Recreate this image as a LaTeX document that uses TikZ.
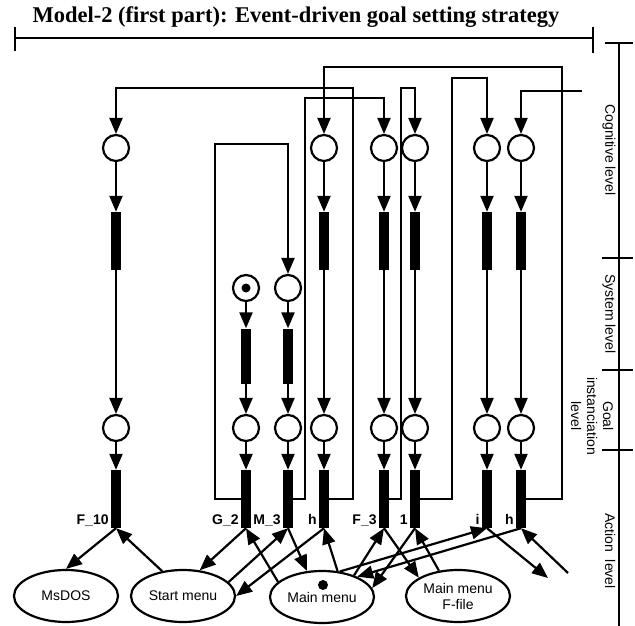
\documentclass[tikz,border=0pt]{standalone}
\usepackage{fontspec}
\setmainfont{Liberation Serif}
\setsansfont{Liberation Sans}
\usepackage{tikz}
\usetikzlibrary{arrows.meta, positioning, shapes}
\tikzstyle{place} = [circle, draw, line width=2.2pt, minimum size=26pt, inner sep=0pt]
\tikzstyle{bar} = [rectangle, fill=black, minimum width=10pt, minimum height=58pt, inner sep=0pt]
\tikzstyle{bar-small} = [rectangle, fill=black, minimum width=10pt, minimum height=55pt, inner sep=0pt]
\tikzstyle{token} = [circle, fill=black, minimum size=9pt, inner sep=0pt]
\tikzstyle{state} = [ellipse, draw, line width=2.2pt, minimum width=104pt, minimum height=52pt, inner sep=1pt, align=center, font=\sffamily\fontsize{14}{16}\selectfont]
\tikzstyle{arrow} = [line width=2.2pt, -{Triangle[length=16pt,width=13pt]}]
\tikzstyle{wire} = [line width=2.2pt]
\tikzstyle{trans-label} = [font=\sffamily\bfseries\fontsize{14}{14}\selectfont, anchor=base east, inner sep=2pt, yshift=4pt]
\tikzstyle{level} = [font=\sffamily\fontsize{14}{16}\selectfont, rotate=-90, align=center, inner sep=0pt]

\begin{document}
\begin{tikzpicture}[x=1pt, y=-1pt, node distance=93pt]
        \useasboundingbox (0,0) rectangle (635,626);

        \node[font=\bfseries\fontsize{22.5}{26}\selectfont] (title) at (296,17) {Model-2 (first part): Event-driven goal setting strategy};
        \draw[wire] (15,38) -- (593,38);
        \draw[wire] (15,27) -- (15,51);
        \draw[wire] (593,27) -- (593,53);

        \node[place] (c-f10) at (116,148) {};
        \node[place] (c-h1) at (324,148) {};
        \node[place] (c-f3) at (384,148) {};
        \node[place] (c-one) at (415,148) {};
        \node[place] (c-i) at (487,148) {};
        \node[place] (c-h2) at (521,148) {};

        \node[bar, below of=c-f10] (ct-f10) {};
        \node[bar, below of=c-h1] (ct-h1) {};
        \node[bar, below of=c-f3] (ct-f3) {};
        \node[bar, below of=c-one] (ct-one) {};
        \node[bar, below of=c-i] (ct-i) {};
        \node[bar, below of=c-h2] (ct-h2) {};

        \node[place] (s-g2) at (246,288) {};
        \node[token] (tok) at (s-g2) {};
        \node[place] (s-m3) at (288,288) {};
        \node[bar-small, below of=s-g2, node distance=68pt] (st-g2) {};
        \node[bar-small, below of=s-m3, node distance=68pt] (st-m3) {};

        \node[place, below of=ct-f10, node distance=187pt] (g-f10) {};
        \node[place, below of=st-g2, node distance=72pt] (g-g2) {};
        \node[place, below of=st-m3, node distance=72pt] (g-m3) {};
        \node[place, below of=ct-h1, node distance=187pt] (g-h1) {};
        \node[place, below of=ct-f3, node distance=187pt] (g-f3) {};
        \node[place, below of=ct-one, node distance=187pt] (g-one) {};
        \node[place, below of=ct-i, node distance=187pt] (g-i) {};
        \node[place, below of=ct-h2, node distance=187pt] (g-h2) {};

        \node[bar, below of=g-f10, node distance=71pt] (a-f10) {};
        \node[bar, below of=g-g2, node distance=71pt] (a-g2) {};
        \node[bar, below of=g-m3, node distance=71pt] (a-m3) {};
        \node[bar, below of=g-h1, node distance=71pt] (a-h1) {};
        \node[bar, below of=g-f3, node distance=71pt] (a-f3) {};
        \node[bar, below of=g-one, node distance=71pt] (a-one) {};
        \node[bar, below of=g-i, node distance=71pt] (a-i) {};
        \node[bar, below of=g-h2, node distance=71pt] (a-h2) {};

        \node[trans-label] (lab-f10) at (a-f10.south west) {F\_10};
        \node[trans-label] (lab-g2) at (a-g2.south west) {G\_2};
        \node[trans-label] (lab-m3) at (a-m3.south west) {M\_3};
        \node[trans-label] (lab-h1) at (a-h1.south west) {h};
        \node[trans-label] (lab-f3) at (a-f3.south west) {F\_3};
        \node[trans-label] (lab-one) at (a-one.south west) {1};
        \node[trans-label] (lab-i) at (a-i.south west) {i};
        \node[trans-label] (lab-h2) at (a-h2.south west) {h};

        \node[state] (msdos) at (66,596) {MsDOS};
        \node[state] (start) at (183,596) {Start menu};
        \node[state] (main) at (322,597) {Main menu};
        \node[token, minimum size=10pt] (main-tok) at (323,585) {};
        \node[state] (ffile) at (458,596) {Main menu\\F-file};

        \draw[arrow] (c-f10) -- (ct-f10);
        \draw[arrow] (ct-f10) -- (g-f10);
        \draw[arrow] (g-f10) -- (a-f10);
        \draw[arrow] (s-g2) -- (st-g2);
        \draw[arrow] (st-g2) -- (g-g2);
        \draw[arrow] (g-g2) -- (a-g2);
        \draw[arrow] (s-m3) -- (st-m3);
        \draw[arrow] (st-m3) -- (g-m3);
        \draw[arrow] (g-m3) -- (a-m3);
        \draw[arrow] (c-h1) -- (ct-h1);
        \draw[arrow] (ct-h1) -- (g-h1);
        \draw[arrow] (g-h1) -- (a-h1);
        \draw[arrow] (c-f3) -- (ct-f3);
        \draw[arrow] (ct-f3) -- (g-f3);
        \draw[arrow] (g-f3) -- (a-f3);
        \draw[arrow] (c-one) -- (ct-one);
        \draw[arrow] (ct-one) -- (g-one);
        \draw[arrow] (g-one) -- (a-one);
        \draw[arrow] (c-i) -- (ct-i);
        \draw[arrow] (ct-i) -- (g-i);
        \draw[arrow] (g-i) -- (a-i);
        \draw[arrow] (c-h2) -- (ct-h2);
        \draw[arrow] (ct-h2) -- (g-h2);
        \draw[arrow] (g-h2) -- (a-h2);

        \draw[arrow] (a-g2.west) -| (215,144) -| (s-m3);
        \draw[arrow] (a-m3.east) -| (305,98) -| (c-f3);
        \draw[arrow] (a-h1.east) -| (353,88) -| (c-f10);
        \draw[arrow] (a-f3.east) -| (401,88) -| (c-one);
        \draw[arrow] (a-one.east) -| (452,78) -| (c-i);
        \draw[arrow] (a-h2.east) -| (562,67) -| (c-h1);
        \coordinate (from-right) at (582,91);
        \draw[arrow] (from-right) -| (c-h2);

        \draw[arrow] (a-f10.south) -- (msdos.north);
        \draw[arrow] (start.130) -- (a-f10.south);
        \draw[arrow] (a-g2.south) -- (start.57);
        \draw[arrow] (main.161) -- (a-g2.south);
        \draw[arrow] (start.17) -- (a-m3.south);
        \draw[arrow] (a-h1.south) -- (start.east);
        \draw[arrow] (a-m3.south) -- (main.120);
        \draw[arrow] (main.59) -- (a-h1.south);
        \draw[arrow] (main.34) -- (a-f3.south);
        \draw[arrow] (a-f3.south) -- (ffile.155);
        \draw[arrow] (a-one.south) -- (main.10);
        \draw[arrow] (ffile.127) -- (a-one.south);
        \draw[arrow] (main.55) -- (a-i.south);
        \draw[arrow] (a-h2.south) -- (main.30);
        \coordinate (out-i) at (548,578);
        \coordinate (in-h2) at (568,573);
        \draw[arrow] (a-i.south) -- (out-i);
        \draw[arrow] (in-h2) -- (a-h2.south);

        \draw[wire] (619,43) -- (619,626);
        \draw[wire] (605,43) -- (633,43);
        \draw[wire] (602,258) -- (633,258);
        \draw[wire] (602,370) -- (633,370);
        \draw[wire] (602,450) -- (633,450);
        \node[level] (lev-cog) at (609,150) {Cognitive level};
        \node[level] (lev-sys) at (609,314) {System level};
        \node[level] (lev-goal) at (592,416) {Goal\\instanciation\\level};
        \node[level] (lev-act) at (610,551) {Action~~level};
\end{tikzpicture}
\end{document}
